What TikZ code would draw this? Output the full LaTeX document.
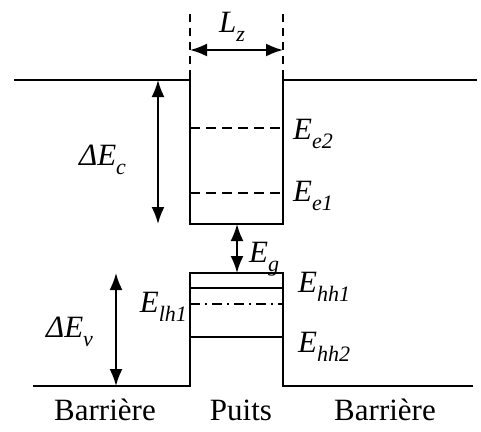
\documentclass[tikz,border=0pt]{standalone}
\usepackage{fontspec}
\setmainfont{Liberation Serif}
\usetikzlibrary{arrows.meta, positioning}
\newcommand{\lvl}[2]{\textit{#1\raisebox{-0.3em}{\fontsize{22}{22}\selectfont #2}}}

\begin{document}
\begin{tikzpicture}[x=1pt, y=-1pt, line width=2.2pt,
    every node/.style={font=\fontsize{31}{36}\selectfont, inner sep=0pt},
    dbl/.style={{Latex[length=17pt,width=13pt]}-{Latex[length=17pt,width=13pt]}, line width=2pt},
    niveau/.style={line width=2pt}]
    \useasboundingbox (0,0) rectangle (481,431);

    % 1. Profil des bandes (conduction en haut, valence en bas)
    \draw (14,80) -- (190,80) -- (190,224) -- (283,224) -- (283,80) -- (477,80);
    \draw (190,80) -- (190,70);
    \draw (283,80) -- (283,70);
    \draw (33,386) -- (190,386) -- (190,273) -- (283,273) -- (283,386) -- (473,386);

    % 2. Largeur du puits
    \draw[dash pattern=on 8pt off 6pt, line width=1.6pt] (190,14) -- (190,68);
    \draw[dash pattern=on 8pt off 6pt, line width=1.6pt] (283,14) -- (283,68);
    \coordinate (lzG) at (190,50);
    \coordinate (lzD) at (283,50);
    \draw[dbl] (lzG) -- (lzD);
    \node[anchor=base west] (lz) at (218,32) {\lvl{L}{z}};

    % 3. Niveaux des electrons
    \draw[niveau, dash pattern=on 10pt off 6pt] (190,128) -- (283,128);
    \draw[niveau, dash pattern=on 10pt off 6pt] (190,193) -- (283,193);
    \node[anchor=base west] (ee2) at (292,139) {\lvl{E}{e2}};
    \node[anchor=base west] (ee1) at (292,201) {\lvl{E}{e1}};

    % 4. Niveaux des trous
    \draw[niveau] (190,288) -- (283,288);
    \draw[niveau, dash pattern=on 10pt off 5pt on 2pt off 5pt] (190,304) -- (283,304);
    \draw[niveau] (190,337) -- (283,337);
    \node[anchor=base west] (ehh1) at (297,292) {\lvl{E}{hh1}};
    \node[anchor=base west] (ehh2) at (297,352) {\lvl{E}{hh2}};
    \node[anchor=base east] (elh1) at (188,312) {\lvl{E}{lh1}};

    % 5. Discontinuites et gap
    \coordinate (bcHaut) at (158,80);
    \coordinate (bcBas) at (158,224);
    \draw[dbl] (bcHaut) -- (bcBas);
    \node[anchor=base west] (dec) at (78,165) {\textit{ΔE\raisebox{-0.3em}{\fontsize{22}{22}\selectfont c}}};

    \coordinate (gHaut) at (237,224);
    \coordinate (gBas) at (237,273);
    \draw[dbl] (gHaut) -- (gBas);
    \node[anchor=base west] (eg) at (248,262) {\lvl{E}{g}};

    \coordinate (bvHaut) at (116,273);
    \coordinate (bvBas) at (116,386);
    \draw[dbl] (bvHaut) -- (bvBas);
    \node[anchor=base west] (dev) at (45,337) {\textit{ΔE\raisebox{-0.3em}{\fontsize{22}{22}\selectfont v}}};

    % 6. Regions
    \node[anchor=base] (barG) at (105,420) {Barrière};
    \node[anchor=base] (puits) at (241,420) {Puits};
    \node[anchor=base] (barD) at (385,420) {Barrière};
\end{tikzpicture}
\end{document}
